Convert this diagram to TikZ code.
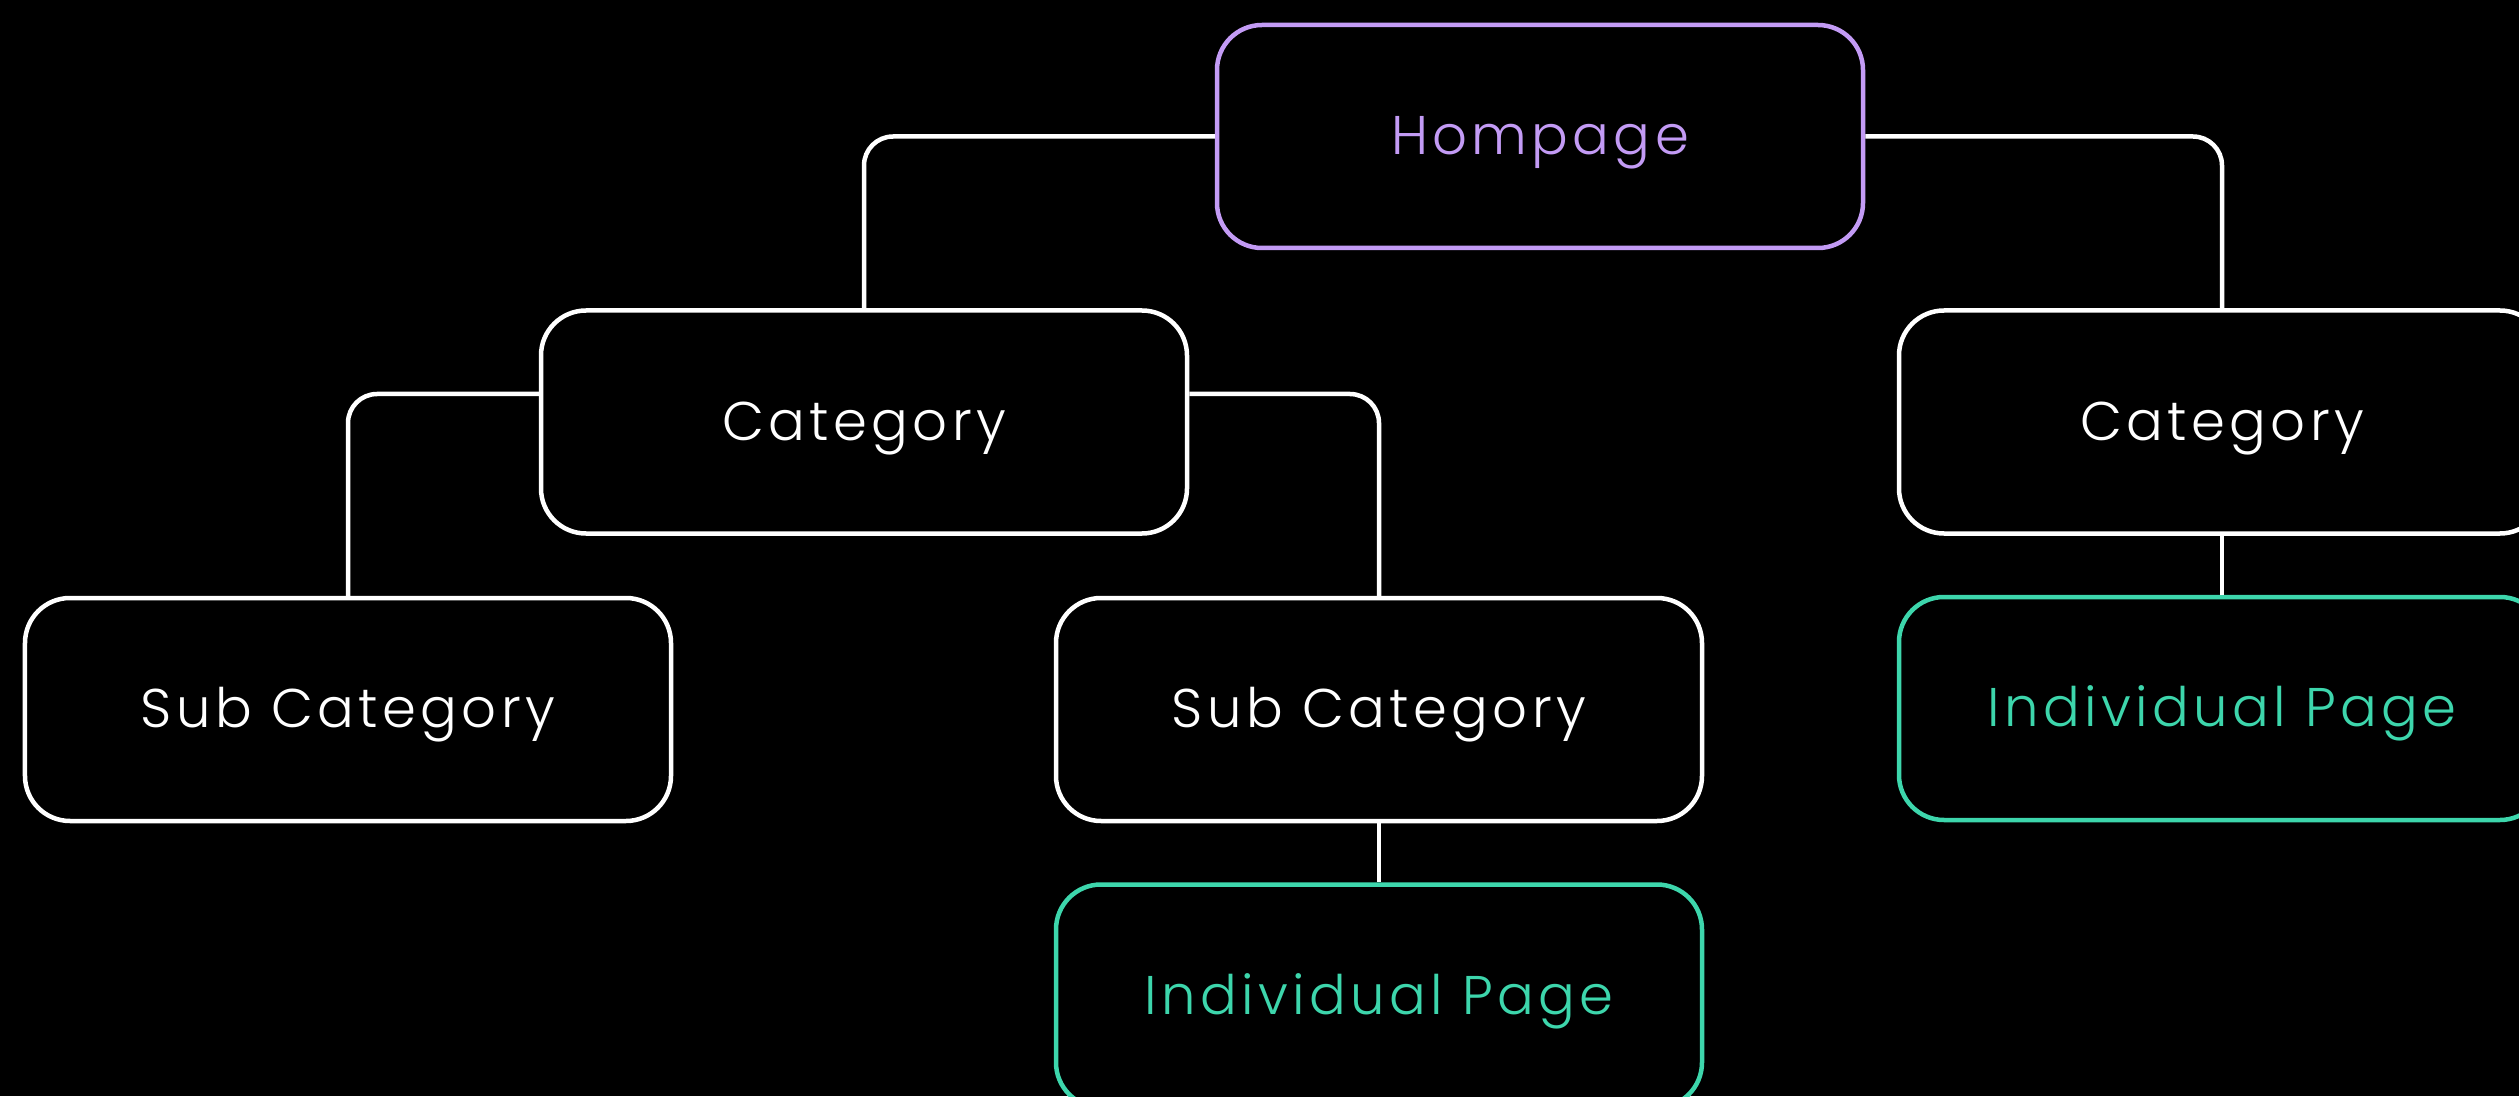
\documentclass[tikz,border=0pt]{standalone}
\usepackage{fontspec}
\setmainfont{Poppins Light}[LetterSpace=8]
\usetikzlibrary{positioning}
\definecolor{lilac}{HTML}{C39BF5}
\definecolor{mint}{HTML}{3DD6AC}

\tikzset{
  page/.style={draw=white,fill=black,text=white,line width=0.045cm,rounded corners=0.45cm,
    minimum width=6.46cm,minimum height=2.23cm,text height=10.5pt,text depth=0pt,
    font=\fontsize{15.5}{18}\selectfont},
  home/.style={page,draw=lilac,text=lilac},
  leaf/.style={page,draw=mint,text=mint},
  wire/.style={white,line width=0.045cm,rounded corners=0.29cm}
}

\begin{document}
\begin{tikzpicture}

\fill[black] (0,0) rectangle (25.19,10.96);
\useasboundingbox (0,0) rectangle (25.19,10.96);

\node [home] (hp) at (15.40,9.595) {Hompage};

\node [page] (catl) at (8.64,6.74) {Category};
\node [page] (catr) at (22.22,6.74) {Category};

\node [page] (subl) at (3.48,3.865) {Sub Category};
\node [page] (subm) at (13.79,3.865) {Sub Category};

\node [leaf,below=0.59cm of subm] (indm) {Individual Page};
\node [leaf,below=0.59cm of catr] (indr) {Individual Page};

\draw [wire] (hp.west) -| (catl.north);
\draw [wire] (hp.east) -| (catr.north);
\draw [wire] ([yshift=0.28cm]catl.west) -| (subl.north);
\draw [wire] ([yshift=0.28cm]catl.east) -| (subm.north);
\draw [wire] (subm.south) -- (indm.north);
\draw [wire] (catr.south) -- (indr.north);

\end{tikzpicture}
\end{document}
